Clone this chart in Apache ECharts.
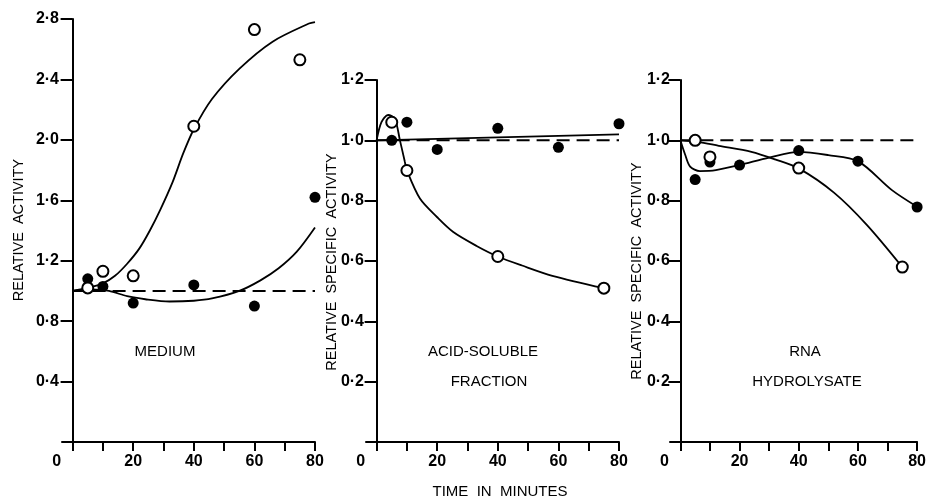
<!DOCTYPE html>
<html>
<head>
<meta charset="utf-8">
<script src="https://cdn.jsdelivr.net/npm/echarts@6/dist/echarts.min.js"></script>
<style>
  html, body { margin: 0; padding: 0; background: #fff; }
  #main { width: 929px; height: 500px; }
</style>
</head>
<body>
<div id="main"></div>
<script>
// x axis ticks and labels (minutes)
var xTicks = [0, 10, 20, 30, 40, 50, 60, 70, 80];
var xLabels = [0, 20, 40, 60, 80];

// medium
var medOpen = [[5, 1.02], [10, 1.13], [20, 1.10], [40, 2.09], [60, 2.73], [75, 2.53]];
var medFilled = [[5, 1.08], [10, 1.03], [20, 0.92], [40, 1.04], [60, 0.90], [80, 1.62]];
var medOpenCurve = [[0, 1.0], [5, 1.02], [10, 1.05], [14, 1.1], [18, 1.18], [22, 1.28], [25.5, 1.4],
    [29, 1.54], [33, 1.72], [36.5, 1.91], [40, 2.07], [46, 2.27], [55, 2.47], [66, 2.65], [78, 2.77], [80, 2.78]];
var medFilledCurve = [[0, 1.0], [6, 1.01], [12, 1.0], [18, 0.965], [24, 0.945], [32, 0.93], [40, 0.935],
    [46, 0.95], [55, 1.0], [62, 1.07], [68, 1.15], [74, 1.26], [80, 1.42]];

// acid-soluble fraction
var acidOpen = [[5, 1.06], [10, 0.90], [40, 0.615], [75, 0.51]];
var acidFilled = [[5, 1.0], [10, 1.06], [20, 0.97], [40, 1.04], [60, 0.977], [80, 1.055]];
var acidOpenCurve = [[0, 1.0], [1.6, 1.06], [3.8, 1.084], [6, 1.072], [7.7, 1.0], [9.3, 0.93], [10, 0.9],
    [14.3, 0.807], [20, 0.745], [25.3, 0.696], [33, 0.65], [40, 0.615], [48, 0.585], [58, 0.551], [75, 0.51]];
var acidFilledCurve = [[0, 1.0], [80, 1.02]];

// RNA hydrolysate
var rnaOpen = [[5, 1.0], [10, 0.945], [40, 0.908], [75, 0.58]];
var rnaFilled = [[5, 0.87], [10, 0.928], [20, 0.918], [40, 0.966], [60, 0.931], [80, 0.779]];
var rnaOpenCurve = [[0, 1.0], [6, 0.995], [13, 0.982], [24, 0.962], [32, 0.937], [40, 0.907],
    [52, 0.826], [63, 0.72], [75, 0.58]];
var rnaFilledCurve = [[0, 1.0], [1.6, 0.953], [3.3, 0.913], [6.6, 0.898], [12, 0.901], [20, 0.918],
    [30, 0.943], [40, 0.962], [50, 0.951], [60, 0.931], [71.5, 0.835], [80, 0.78]];

var baseline = [[0, 1.0], [80, 1.0]];

var tickFont = { fontFamily: 'Liberation Sans Narrow, Liberation Sans', fontWeight: 'bold', fontSize: 16, color: '#000' };
var textFont = 'Liberation Sans';

function fmtY(v) { return v.toFixed(1).replace('.', '\u00b7'); }

function xAxisFor(i) {
    return {
        type: 'value', gridIndex: i, min: -3.5, max: 80,
        splitLine: { show: false },
        axisLine: { lineStyle: { color: '#000', width: 2 } },
        axisTick: { customValues: xTicks, length: 9, lineStyle: { color: '#000', width: 2 } },
        axisLabel: Object.assign({
            customValues: xLabels, margin: 12,
            formatter: function (v) { return v === 0 ? '{z|0}' : String(v); },
            rich: { z: { padding: [0, 32, 0, 0], fontFamily: tickFont.fontFamily, fontWeight: 'bold', fontSize: 16 } }
        }, tickFont)
    };
}

function yAxisFor(i, max, interval, margin) {
    return {
        type: 'value', gridIndex: i, min: 0, max: max, interval: interval,
        splitLine: { show: false },
        axisLine: { onZero: true, lineStyle: { color: '#000', width: 2 } },
        axisTick: { length: 12, lineStyle: { color: '#000', width: 2 } },
        axisLabel: Object.assign({ showMinLabel: false, margin: margin, formatter: fmtY }, tickFont)
    };
}

function curve(data, i) {
    return {
        type: 'line', xAxisIndex: i, yAxisIndex: i, data: data, smooth: 0.3,
        symbol: 'none', lineStyle: { color: '#000', width: 1.8 }, z: 2
    };
}

function dashed(i) {
    return {
        type: 'line', xAxisIndex: i, yAxisIndex: i, data: baseline, symbol: 'none',
        lineStyle: { color: '#000', width: 2, type: [13, 7] }, z: 1
    };
}

function dots(data, i, open) {
    return {
        type: 'scatter', xAxisIndex: i, yAxisIndex: i, data: data, symbol: 'circle', symbolSize: 11,
        itemStyle: open ? { color: '#fff', borderColor: '#000', borderWidth: 2, opacity: 1 } : { color: '#000', opacity: 1 },
        z: 5
    };
}

function label(text, x, y, rotate) {
    return {
        type: 'text', x: x, y: y, rotation: rotate ? Math.PI / 2 : 0,
        style: { text: text, fill: '#000', font: (rotate ? '14.5px ' : '15px ') + textFont, textAlign: 'center', textVerticalAlign: 'middle' }
    };
}

var chart = echarts.init(document.getElementById('main'));
chart.setOption({
    animation: false,
    backgroundColor: '#fff',
    grid: [
        { left: 62, top: 19, width: 253, height: 423 },
        { left: 366, top: 80, width: 253, height: 362 },
        { left: 670, top: 80, width: 253, height: 362 }
    ],
    xAxis: [xAxisFor(0), xAxisFor(1), xAxisFor(2)],
    yAxis: [yAxisFor(0, 2.8, 0.4, 3), yAxisFor(1, 1.2, 0.2, 2), yAxisFor(2, 1.2, 0.2, 0)],
    series: [
        dashed(0), curve(medOpenCurve, 0), curve(medFilledCurve, 0),
        dots(medFilled, 0, false), dots(medOpen, 0, true),
        dashed(1), curve(acidOpenCurve, 1), curve(acidFilledCurve, 1),
        dots(acidFilled, 1, false), dots(acidOpen, 1, true),
        dashed(2), curve(rnaOpenCurve, 2), curve(rnaFilledCurve, 2),
        dots(rnaFilled, 2, false), dots(rnaOpen, 2, true)
    ],
    graphic: [
        label('RELATIVE  ACTIVITY', 19, 230, true),
        label('RELATIVE  SPECIFIC  ACTIVITY', 332, 262, true),
        label('RELATIVE  SPECIFIC  ACTIVITY', 637, 271, true),
        label('MEDIUM', 165, 352),
        label('ACID-SOLUBLE', 483, 352),
        label('FRACTION', 489, 382),
        label('RNA', 805, 352),
        label('HYDROLYSATE', 807, 382),
        label('TIME  IN  MINUTES', 500, 492)
    ]
});
</script>
</body>
</html>
